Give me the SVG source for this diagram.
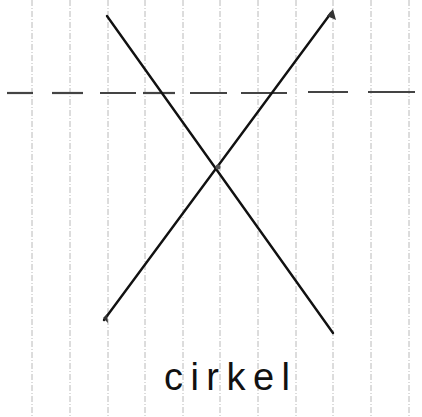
<svg xmlns="http://www.w3.org/2000/svg" width="422" height="417" viewBox="0 0 422 417">
<style>
.rule{stroke:#a8a8a8;stroke-width:0.8;stroke-dasharray:6 2 1 2}
.dash{stroke:#444;stroke-width:2.2}
.ray{stroke:#111;stroke-width:2.4;fill:none;stroke-linecap:round}
.lbl{font-family:"Liberation Sans",sans-serif;font-size:38px;fill:#111}
</style>
<rect width="422" height="417" fill="#fff"/>
<g id="paper-lines">
<line class="rule" x1="32" y1="0" x2="32" y2="417"/>
<line class="rule" x1="70" y1="0" x2="70" y2="417"/>
<line class="rule" x1="108" y1="0" x2="108" y2="417"/>
<line class="rule" x1="145" y1="0" x2="145" y2="417"/>
<line class="rule" x1="183" y1="0" x2="183" y2="417"/>
<line class="rule" x1="220" y1="0" x2="220" y2="417"/>
<line class="rule" x1="258" y1="0" x2="258" y2="417"/>
<line class="rule" x1="296" y1="0" x2="296" y2="417"/>
<line class="rule" x1="333" y1="0" x2="333" y2="417"/>
<line class="rule" x1="371" y1="0" x2="371" y2="417"/>
<line class="rule" x1="409" y1="0" x2="409" y2="417"/>
</g>
<g id="dashed-line">
<line class="dash" x1="7" y1="93" x2="33" y2="93"/>
<line class="dash" x1="52" y1="93" x2="83" y2="93"/>
<line class="dash" x1="100" y1="93" x2="136" y2="93"/>
<line class="dash" x1="143" y1="93" x2="175" y2="93"/>
<line class="dash" x1="190" y1="93" x2="227" y2="93"/>
<line class="dash" x1="241" y1="93" x2="287" y2="93"/>
<line class="dash" x1="308" y1="92" x2="348" y2="92"/>
<line class="dash" x1="368" y1="92" x2="415" y2="92"/>
</g>
<g id="connectors">
<line class="ray" x1="107" y1="16" x2="333" y2="333"/>
<line class="ray" x1="104" y1="320" x2="331" y2="13"/>
<path d="M327 16 L333 9 L336 20 Z" fill="#333"/>
<path d="M103 318 L108 323 L107 314 Z" fill="#333"/>
<circle cx="218" cy="167" r="2.5" fill="#555"/>
</g>
<g id="label">
<text class="lbl" x="164" y="390" textLength="126" lengthAdjust="spacing">cirkel</text>
</g>
</svg>
